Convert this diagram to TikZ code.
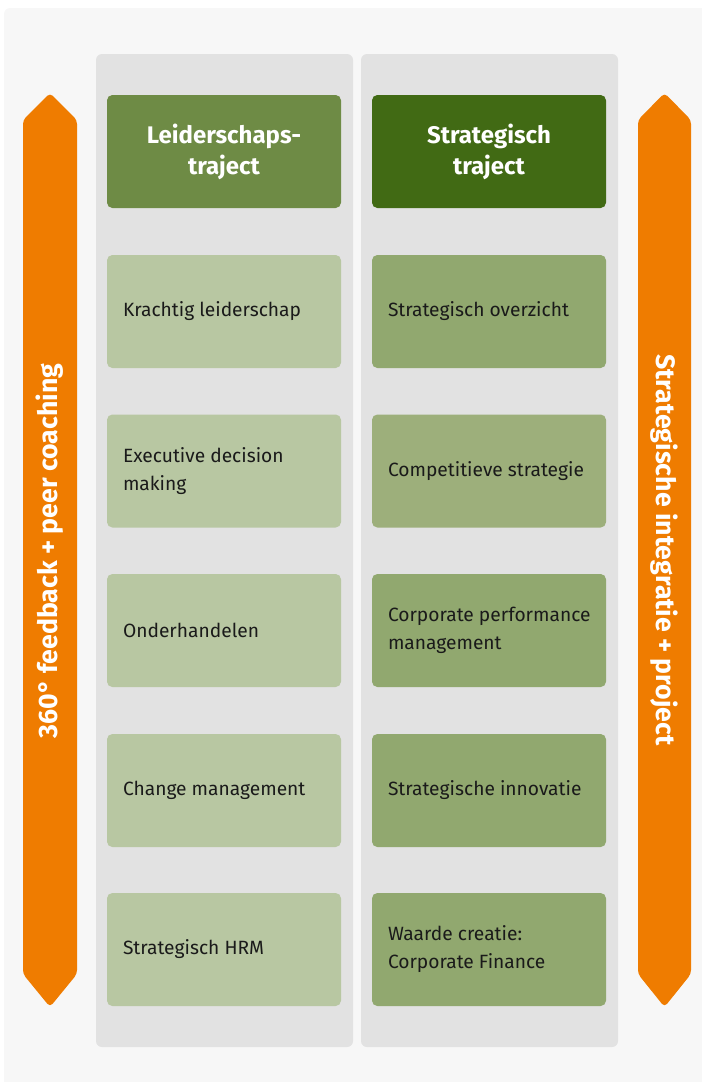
\documentclass[tikz,border=0pt]{standalone}
\usepackage{fontspec}
\setmainfont{Fira Sans}
\definecolor{outerbg}{HTML}{F7F7F7}
\definecolor{panelbg}{HTML}{E2E2E2}
\definecolor{leftheadfill}{HTML}{6E8B45}
\definecolor{rightheadfill}{HTML}{416A14}
\definecolor{leftboxfill}{HTML}{B8C7A2}
\definecolor{rightboxfill}{HTML}{91A86F}
\definecolor{rightboxlight}{HTML}{9DAF7B}
\definecolor{arrowfill}{HTML}{EF7C00}
\definecolor{bodytext}{HTML}{1A1A1A}
\tikzset{
  panel/.style={fill=panelbg, rounded corners=4.5pt},
  headbox/.style={rounded corners=4pt, minimum width=175.5pt, minimum height=84.75pt,
    text=white, align=center, font=\fontsize{18}{23.25}\selectfont\bfseries},
  itembox/.style={rounded corners=4pt, minimum width=175.5pt, minimum height=84.75pt,
    inner xsep=12pt, text width=151.5pt, align=flush left, text=bodytext,
    font=\fontsize{14.4}{21}\selectfont},
  arrowlabel/.style={text=white, font=\fontsize{20}{24}\selectfont\bfseries}
}
\begin{document}
\begin{tikzpicture}[x=0.75pt, y=-0.75pt]
    \useasboundingbox (0,0) rectangle (701,1082);
    \fill[outerbg, rounded corners=4.5pt] (4,8) rectangle (712,1095);

    % two columns
    \fill[panel] (96,54) rectangle (353,1047);
    \fill[panel] (361,54) rectangle (618,1047);

    % side arrows
    \fill[arrowfill, rounded corners=3pt] (23,120) -- (50,93) -- (77,120) -- (77,974) -- (50,1007) -- (23,974) -- cycle;
    \fill[arrowfill, rounded corners=3pt] (638,120) -- (664.5,93) -- (691,120) -- (691,974) -- (664.5,1007) -- (638,974) -- cycle;
    \node[arrowlabel, rotate=90] (feedback) at (50,551) {360° feedback + peer coaching};
    \node[arrowlabel, rotate=-90] (integratie) at (664.5,550) {Strategische integratie + project};

    % left column
    \node[headbox, fill=leftheadfill] (leidhead) at (224,151.5) {Leiderschaps-\\traject};
    \node[itembox, fill=leftboxfill] (krachtig) at (224,311.5) {Krachtig leiderschap};
    \node[itembox, fill=leftboxfill] (decision) at (224,471) {Executive decision\\making};
    \node[itembox, fill=leftboxfill] (onderhandelen) at (224,630.5) {Onderhandelen};
    \node[itembox, fill=leftboxfill] (change) at (224,790.5) {Change management};
    \node[itembox, fill=leftboxfill] (hrm) at (224,949.5) {Strategisch HRM};

    % right column
    \node[headbox, fill=rightheadfill] (strathead) at (489,151.5) {Strategisch\\traject};
    \node[itembox, fill=rightboxfill] (overzicht) at (489,311.5) {Strategisch overzicht};
    \node[itembox, fill=rightboxlight] (competitief) at (489,471) {Competitieve strategie};
    \node[itembox, fill=rightboxfill] (performance) at (489,630.5) {\mbox{Corporate performance}\\management};
    \node[itembox, fill=rightboxfill] (innovatie) at (489,790.5) {Strategische innovatie};
    \node[itembox, fill=rightboxfill] (finance) at (489,949.5) {Waarde creatie:\\Corporate Finance};
\end{tikzpicture}
\end{document}
